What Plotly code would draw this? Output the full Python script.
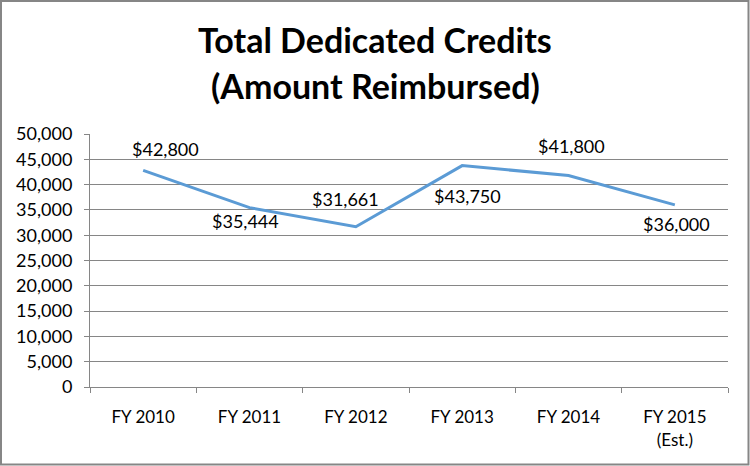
import plotly.graph_objects as go

categories = ["FY 2010", "FY 2011", "FY 2012", "FY 2013", "FY 2014", "FY 2015<br>(Est.)"]
values = [42800, 35444, 31661, 43750, 41800, 36000]
value_labels = ["$42,800", "$35,444", "$31,661", "$43,750", "$41,800", "$36,000"]
title_lines = ["Total Dedicated Credits", "(Amount Reimbursed)"]
# label offsets in pixels (style only)
label_shifts = [(22, 21), (-4, -13), (-10, 28), (5, -30), (3, 29), (2, -19)]

W, H = 750, 466
ml, mr, mt, mb = 90, 22, 134, 79
pw, ph = W - ml - mr, H - mt - mb

FONT = "Lato"
GRAY = "#868686"

fig = go.Figure()
fig.add_trace(go.Scatter(
    x=categories, y=values, mode="lines",
    line=dict(color="#5B9BD5", width=3),
    hoverinfo="skip", showlegend=False,
))

for c, v, t, (dx, dy) in zip(categories, values, value_labels, label_shifts):
    fig.add_annotation(x=c, y=v, text=t, showarrow=False, xshift=dx, yshift=dy,
                       font=dict(family=FONT, size=18, color="#000000"))


def px_to_paper_x(px):
    return (px - ml) / pw


def px_to_paper_y(py):
    return (H - mb - py) / ph


# title as two separate lines
for line, cy in zip(title_lines, [40, 85]):
    fig.add_annotation(xref="paper", yref="paper", x=px_to_paper_x(375), y=px_to_paper_y(cy),
                       xanchor="center", yanchor="middle", showarrow=False,
                       text="<b>" + line + "</b>",
                       font=dict(family=FONT, size=34, color="#000000"))

# chart border (outer frame)
fig.add_shape(type="rect", xref="paper", yref="paper",
              x0=px_to_paper_x(1), x1=px_to_paper_x(748.5),
              y0=px_to_paper_y(464.5), y1=px_to_paper_y(1),
              line=dict(color=GRAY, width=2), fillcolor="rgba(0,0,0,0)", layer="below")

fig.update_layout(
    width=W, height=H,
    margin=dict(l=ml, r=mr, t=mt, b=mb),
    paper_bgcolor="white", plot_bgcolor="white",
    xaxis=dict(type="category", range=[-0.5, 5.5], tickson="boundaries",
               ticks="outside", ticklen=5, tickcolor=GRAY,
               showline=True, linecolor=GRAY, linewidth=1, showgrid=False,
               tickfont=dict(family=FONT, size=17, color="#000000"),
               ticklabelstandoff=15,
               fixedrange=True),
    yaxis=dict(range=[0, 50000], dtick=5000, tickformat=",",
               ticks="outside", ticklen=5, tickcolor=GRAY,
               showline=True, linecolor=GRAY, linewidth=1,
               showgrid=True, gridcolor=GRAY, gridwidth=1, zeroline=False,
               tickfont=dict(family=FONT, size=18, color="#000000"),
               ticklabelstandoff=8,
               fixedrange=True),
)

fig.write_html("out.html", config={"displayModeBar": False})
